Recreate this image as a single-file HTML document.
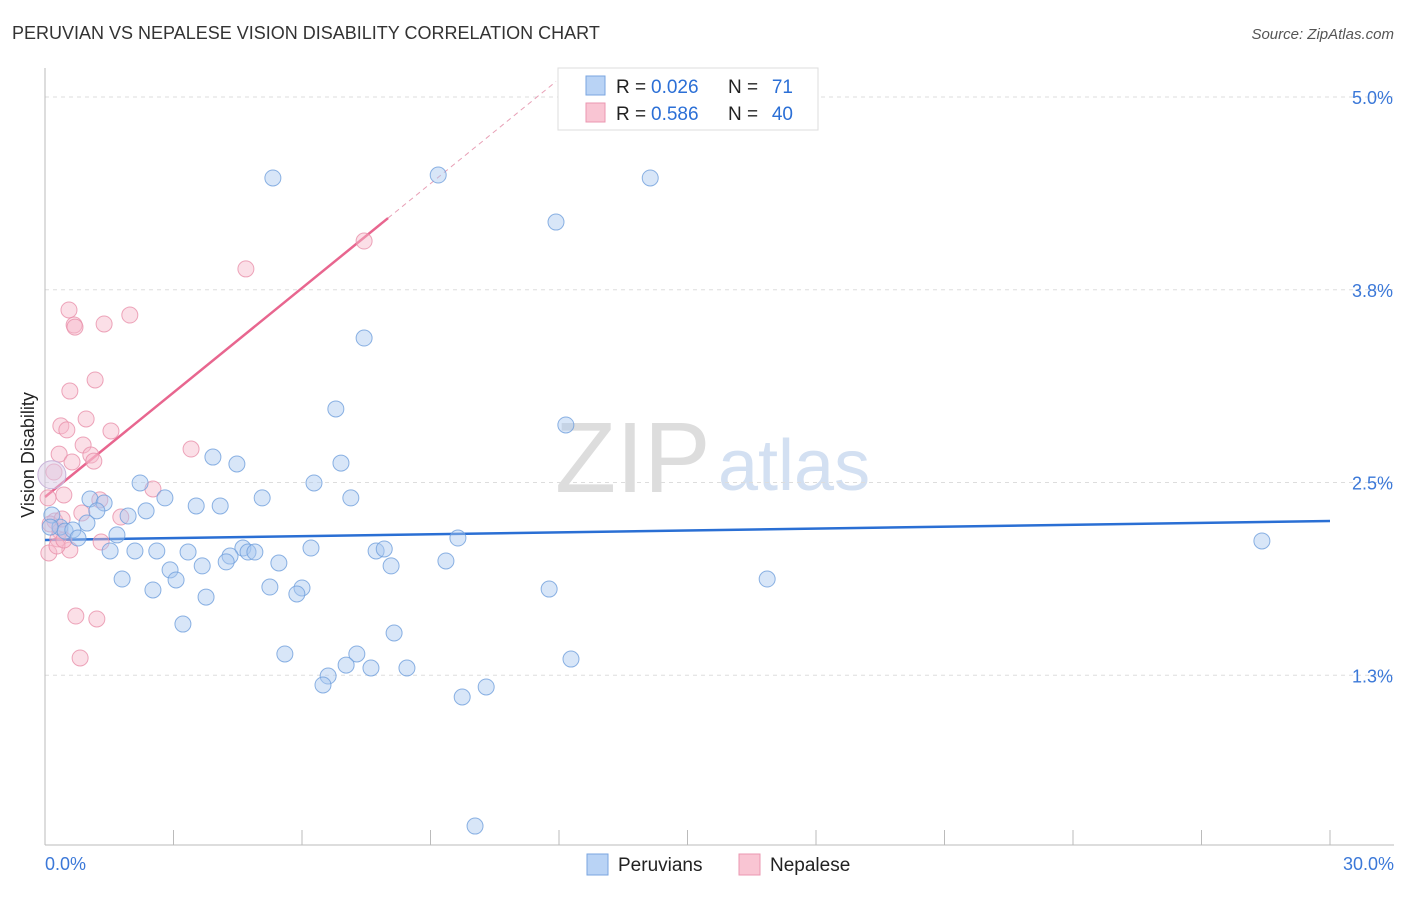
<!DOCTYPE html>
<html><head><meta charset="utf-8"><style>
body{margin:0;background:#fff;font-family:"Liberation Sans",sans-serif;}
svg text{font-family:"Liberation Sans",sans-serif;}
</style></head><body>
<svg id="c" width="1406" height="892">
<text x="12" y="39" font-size="18" fill="#333">PERUVIAN VS NEPALESE VISION DISABILITY CORRELATION CHART</text>
<text x="1394" y="39" font-size="15" fill="#555" text-anchor="end" font-style="italic">Source: ZipAtlas.com</text>
<text x="555" y="492" font-size="100" fill="#ddd" font-family="Liberation Serif">ZIP</text>
<text x="718" y="490" font-size="72" fill="#d3e0f2">atlas</text>
<text transform="translate(34,455) rotate(-90)" font-size="18" fill="#222" text-anchor="middle">Vision Disability</text>
<g id="grid"></g><g id="axes"></g><g id="lines"></g><g id="pts"></g>
<g>
<rect x="558" y="68" width="260" height="62" fill="#fff" stroke="#ddd"/>
<rect x="586" y="76" width="19" height="19" fill="#b9d3f5" stroke="#7aa6e0"/>
<rect x="586" y="103" width="19" height="19" fill="#f9c5d3" stroke="#eb97b0"/>
<text x="616" y="93" font-size="19" fill="#222">R =</text>
<text x="651" y="93" font-size="19" fill="#2b6fd6">0.026</text>
<text x="728" y="93" font-size="19" fill="#222">N =</text>
<text x="793" y="93" font-size="19" fill="#2b6fd6" text-anchor="end">71</text>
<text x="616" y="120" font-size="19" fill="#222">R =</text>
<text x="651" y="120" font-size="19" fill="#2b6fd6">0.586</text>
<text x="728" y="120" font-size="19" fill="#222">N =</text>
<text x="793" y="120" font-size="19" fill="#2b6fd6" text-anchor="end">40</text>
</g>
<g>
<rect x="587" y="854" width="21" height="21" fill="#b9d3f5" stroke="#7aa6e0"/>
<text x="618" y="871" font-size="19" fill="#222">Peruvians</text>
<rect x="739" y="854" width="21" height="21" fill="#f9c5d3" stroke="#eb97b0"/>
<text x="770" y="871" font-size="19" fill="#222">Nepalese</text>
</g>
</svg>
<script>
const blueX=[5.32,9.18,14.13,11.93,7.45,6.79,12.16,3.92,4.48,6.91,2.22,6.28,1.05,1.38,2.80,5.07,7.14,1.21,2.36,1.94,3.53,4.09,0.98,0.35,0.47,0.65,0.77,1.68,9.64,28.41,1.52,2.10,2.61,3.34,4.62,4.74,4.90,4.32,6.21,7.73,7.92,5.46,3.67,4.23,2.92,8.08,9.36,1.80,3.06,16.86,2.52,5.25,6.00,5.88,3.76,11.77,3.22,8.15,5.60,7.28,12.28,7.03,7.61,8.45,6.61,6.49,10.30,9.74,10.04,0.16,0.12];
const blueY=[4.475,4.494,4.475,4.189,3.437,2.977,2.873,2.665,2.620,2.626,2.497,2.497,2.393,2.367,2.400,2.400,2.400,2.316,2.316,2.283,2.348,2.348,2.237,2.211,2.185,2.192,2.140,2.160,2.140,2.121,2.056,2.056,2.056,2.049,2.075,2.049,2.049,2.023,2.075,2.056,2.069,1.978,1.959,1.985,1.933,1.959,1.991,1.874,1.868,1.874,1.803,1.822,1.816,1.777,1.757,1.809,1.582,1.524,1.388,1.388,1.355,1.316,1.297,1.297,1.245,1.187,1.174,1.109,0.272,2.289,2.211];
const pinkX=[7.45,4.69,0.56,0.68,0.70,1.38,1.98,0.58,1.17,0.96,0.37,0.51,1.54,3.41,0.89,1.07,1.14,0.33,0.63,0.21,0.44,2.52,1.28,1.77,0.86,0.23,0.12,0.35,0.30,1.31,0.58,0.09,0.28,0.72,1.21,0.82,0.07,0.40,0.44];
const pinkY=[4.066,3.885,3.619,3.521,3.508,3.528,3.586,3.093,3.165,2.912,2.867,2.841,2.834,2.717,2.743,2.678,2.639,2.684,2.633,2.568,2.419,2.458,2.387,2.276,2.302,2.250,2.231,2.185,2.134,2.114,2.062,2.043,2.088,1.634,1.615,1.362,2.400,2.263,2.127];
const yTicks=[1.25,2.5,3.75,5.0];
const yTickLabels=["1.3%","2.5%","3.8%","5.0%"];
const blueTrend=[2.127,2.25];
const pinkTrend=[2.406,4.215];
const xMin=0,xMax=30;
const X=v=>45+(v-xMin)/(xMax-xMin)*1285;
const Y=v=>868-v*154.2;
const NS="http://www.w3.org/2000/svg";
function mk(tag,attrs,parent){const e=document.createElementNS(NS,tag);for(const k in attrs)e.setAttribute(k,attrs[k]);document.getElementById(parent).appendChild(e);return e;}
yTicks.forEach((t,i)=>{
 const g=mk('line',{x1:45,x2:1394,y1:Y(t),y2:Y(t),stroke:'#ddd','stroke-dasharray':'4,4'},'grid');
 
 
 const l=mk('text',{x:1393,y:Y(t)+7,'font-size':18,fill:'#3b78d8','text-anchor':'end'},'grid');
 l.textContent=yTickLabels[i];
 
 
});
const ax=mk('line',{x1:45,x2:45,y1:68,y2:845,stroke:'#bbb'},'axes');


const bx=mk('line',{x1:45,x2:1394,y1:845,y2:845,stroke:'#bbb'},'axes');


for(let i=0;i<=10;i++){const t=mk('line',{x1:X(i*3),x2:X(i*3),y1:830,y2:845,stroke:'#bbb'},'axes');
 
 }
const x0=mk('text',{x:45,y:870,'font-size':18,fill:'#3b78d8'},'axes');x0.textContent='0.0%';


const x1=mk('text',{x:1394,y:870,'font-size':18,fill:'#3b78d8','text-anchor':'end'},'axes');x1.textContent='30.0%';


function pts(xs,ys,fill,stroke,name){xs.forEach((x,i)=>{const c=mk('circle',{cx:X(x),cy:Y(ys[i]),r:8,fill:fill,'fill-opacity':0.45,stroke:stroke,'stroke-width':1,'stroke-opacity':0.8},'pts');
 
 });}
pts(pinkX,pinkY,'#f7b8c9','#e890aa','nepalese-point');
pts(blueX,blueY,'#a9c8f0','#6f9fdc','peruvian-point');
const big=mk('circle',{cx:X(0.16),cy:Y(2.55),r:14,fill:'#d9c9e6','fill-opacity':0.5,stroke:'#c9b3d9'},'pts');


const bl=mk('line',{x1:X(0),y1:Y(blueTrend[0]),x2:X(30),y2:Y(blueTrend[1]),stroke:'#2a6fd4','stroke-width':2.5},'lines');


const slope=(pinkTrend[1]-pinkTrend[0])/8.01;
const pl=mk('line',{x1:X(0),y1:Y(pinkTrend[0]),x2:X(8.01),y2:Y(pinkTrend[1]),stroke:'#e8668f','stroke-width':2.5},'lines');


const pd=mk('line',{x1:X(8.01),y1:Y(pinkTrend[1]),x2:X(11.93),y2:Y(pinkTrend[0]+slope*11.93),stroke:'#e8a0b6','stroke-width':1,'stroke-dasharray':'5,4'},'lines');


</script>
</body></html>
